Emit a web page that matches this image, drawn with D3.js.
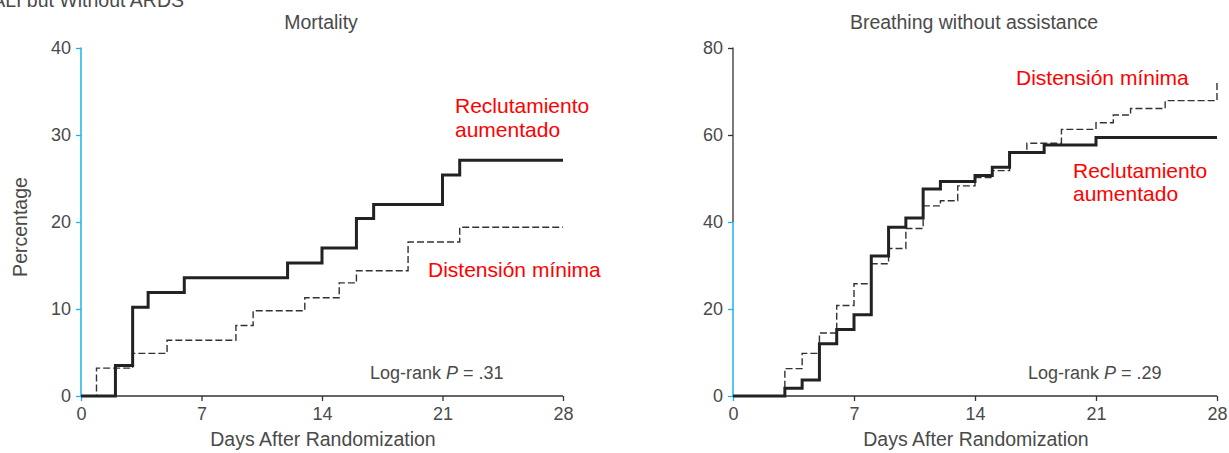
<!DOCTYPE html>
<html>
<head>
<meta charset="utf-8">
<script src="https://cdn.jsdelivr.net/npm/d3@7"></script>
<style>
  html, body { margin: 0; padding: 0; background: #fff; }
  svg { display: block; font-family: "Liberation Sans", Arial, sans-serif; }
</style>
</head>
<body>
<svg id="chart" width="1229" height="453"></svg>
<script>
// --- Data ---
const dayTicks = [0, 7, 14, 21, 28];
const mortalityTicks = [0, 10, 20, 30, 40];
const breathingTicks = [0, 20, 40, 60, 80];

// Mortality (left panel)
const mortRecDays = [0, 2, 3, 3.9, 6, 12, 14, 16, 17, 21, 22, 28];
const mortRecPct  = [0, 3.5, 10.2, 11.9, 13.6, 15.3, 17.0, 20.4, 22.0, 25.4, 27.1, 27.1];
const mortDisDays = [0, 0.9, 3, 5, 9, 10, 13, 15, 16, 19, 22, 28];
const mortDisPct  = [0, 3.2, 4.9, 6.4, 8.1, 9.8, 11.3, 13.0, 14.4, 17.7, 19.4, 19.4];

// Breathing without assistance (right panel)
const brRecDays = [0, 3, 4, 5, 6, 7, 8, 9, 10, 11, 12, 14, 15, 16, 18, 21, 28];
const brRecPct  = [0, 1.8, 3.7, 12.0, 15.3, 18.7, 32.2, 38.8, 40.9, 47.6, 49.3, 50.7, 52.6, 56.0, 57.7, 59.4, 59.4];
const brDisDays = [0, 3, 4, 5, 6, 7, 8, 9, 10, 11, 12, 13, 14, 15, 16, 17, 19, 21, 22, 23, 25, 28];
const brDisPct  = [0, 6.3, 9.8, 14.5, 20.8, 25.8, 30.4, 33.9, 38.5, 43.7, 44.9, 48.3, 50.2, 51.8, 55.8, 58.1, 61.3, 62.8, 64.6, 66.1, 67.9, 72.6];

const svg = d3.select("#chart");
const blue = "#1cb3ef";
const textCol = "#4a4a4a";

// cut-off header in the top-left corner (the reference shows it clipped)
svg.append("text")
    .attr("x", 184).attr("y", 6.5)
    .attr("text-anchor", "end")
    .attr("font-size", 19.5)
    .attr("fill", textCol)
    .text("ALI but Without ARDS");

const zip = (xs, ys) => xs.map((d, i) => ({ day: d, pct: ys[i] }));

const drawPanel = (cfg) => {
    const x = d3.scaleLinear().domain([0, 28]).range([cfg.x0, cfg.x1]);
    const y = d3.scaleLinear().domain([0, cfg.yMax]).range([396, 48]);
    const g = svg.append("g");

    // title
    g.append("text")
        .attr("x", (cfg.x0 + cfg.x1) / 2 - 1).attr("y", 29)
        .attr("text-anchor", "middle")
        .attr("font-size", 19.5)
        .attr("fill", textCol)
        .text(cfg.title);

    // x axis
    const xAxis = g.append("g")
        .attr("transform", "translate(0,396)")
        .call(d3.axisBottom(x).tickValues(dayTicks).tickSize(5).tickPadding(6));
    xAxis.select(".domain").attr("stroke", "#333").attr("stroke-width", 1.3)
        .attr("d", `M${cfg.x0},0H${cfg.x1}`);
    xAxis.selectAll(".tick line").attr("stroke", (d) => d === 0 ? blue : "#333").attr("stroke-width", 1.3);
    xAxis.selectAll(".tick text")
        .attr("font-size", 18).attr("fill", textCol)
        .attr("font-family", "Liberation Sans, Arial, sans-serif");

    // y axis
    const yAxis = g.append("g")
        .attr("transform", `translate(${cfg.x0},0)`)
        .call(d3.axisLeft(y).tickValues(cfg.ticks).tickSize(5).tickPadding(5));
    yAxis.select(".domain").remove();
    yAxis.selectAll(".tick line")
        .attr("stroke", (d) => d <= cfg.blueUpTo ? blue : "#333")
        .attr("stroke-width", 1.3);
    yAxis.selectAll(".tick text")
        .attr("font-size", 18).attr("fill", textCol)
        .attr("font-family", "Liberation Sans, Arial, sans-serif");
    // axis line: dark above blueUpTo, blue below
    if (cfg.blueUpTo < cfg.yMax) {
        g.append("line")
            .attr("x1", cfg.x0).attr("x2", cfg.x0)
            .attr("y1", y(cfg.yMax) - 0.6).attr("y2", y(cfg.blueUpTo))
            .attr("stroke", "#333").attr("stroke-width", 1.3);
    }
    g.append("line")
        .attr("x1", cfg.x0).attr("x2", cfg.x0)
        .attr("y1", y(cfg.blueUpTo) - (cfg.blueUpTo === cfg.yMax ? 0.6 : 0)).attr("y2", 396)
        .attr("stroke", blue).attr("stroke-width", 1.5);

    // y axis title
    if (cfg.yLabel) {
        g.append("text")
            .attr("transform", `translate(27,${y(cfg.yMax / 2) + 5}) rotate(-90)`)
            .attr("text-anchor", "middle")
            .attr("font-size", 19.5)
            .attr("fill", textCol)
            .text(cfg.yLabel);
    }

    // x axis title
    g.append("text")
        .attr("x", (cfg.x0 + cfg.x1) / 2 + 1).attr("y", 446)
        .attr("text-anchor", "middle")
        .attr("font-size", 19.5)
        .attr("fill", textCol)
        .text("Days After Randomization");

    // step curves
    const line = d3.line()
        .x(d => x(d.day))
        .y(d => y(d.pct))
        .curve(d3.curveStepAfter);

    g.append("path")
        .datum(zip(cfg.disDays, cfg.disPct))
        .attr("fill", "none")
        .attr("stroke", "#333")
        .attr("stroke-width", 1.4)
        .attr("stroke-dasharray", "7,3")
        .attr("d", line);

    g.append("path")
        .datum(zip(cfg.recDays, cfg.recPct))
        .attr("fill", "none")
        .attr("stroke", "#222")
        .attr("stroke-width", 3)
        .attr("d", line);

    // log-rank annotation
    const lr = g.append("text")
        .attr("x", cfg.lrX).attr("y", 379)
        .attr("font-size", 18)
        .attr("fill", textCol);
    lr.append("tspan").text("Log-rank ");
    lr.append("tspan").attr("font-style", "italic").text("P");
    lr.append("tspan").text(" = " + cfg.pValue);

    // red series labels
    cfg.labels.forEach(l => {
        g.append("text")
            .attr("x", l.x).attr("y", l.y)
            .attr("font-size", 21)
            .attr("fill", "#ff0000")
            .text(l.text);
    });
};

drawPanel({
    title: "Mortality",
    x0: 81, x1: 563,
    yMax: 40, ticks: mortalityTicks, blueUpTo: 40,
    yLabel: "Percentage",
    recDays: mortRecDays, recPct: mortRecPct,
    disDays: mortDisDays, disPct: mortDisPct,
    lrX: 370, pValue: ".31",
    labels: [
        { text: "Reclutamiento", x: 455, y: 113 },
        { text: "aumentado", x: 455, y: 137 },
        { text: "Distensión mínima", x: 428, y: 277 }
    ]
});

drawPanel({
    title: "Breathing without assistance",
    x0: 733, x1: 1217,
    yMax: 80, ticks: breathingTicks, blueUpTo: 40,
    yLabel: null,
    recDays: brRecDays, recPct: brRecPct,
    disDays: brDisDays, disPct: brDisPct,
    lrX: 1028, pValue: ".29",
    labels: [
        { text: "Distensión mínima", x: 1016, y: 85 },
        { text: "Reclutamiento", x: 1073, y: 178 },
        { text: "aumentado", x: 1073, y: 201 }
    ]
});
</script>
</body>
</html>
